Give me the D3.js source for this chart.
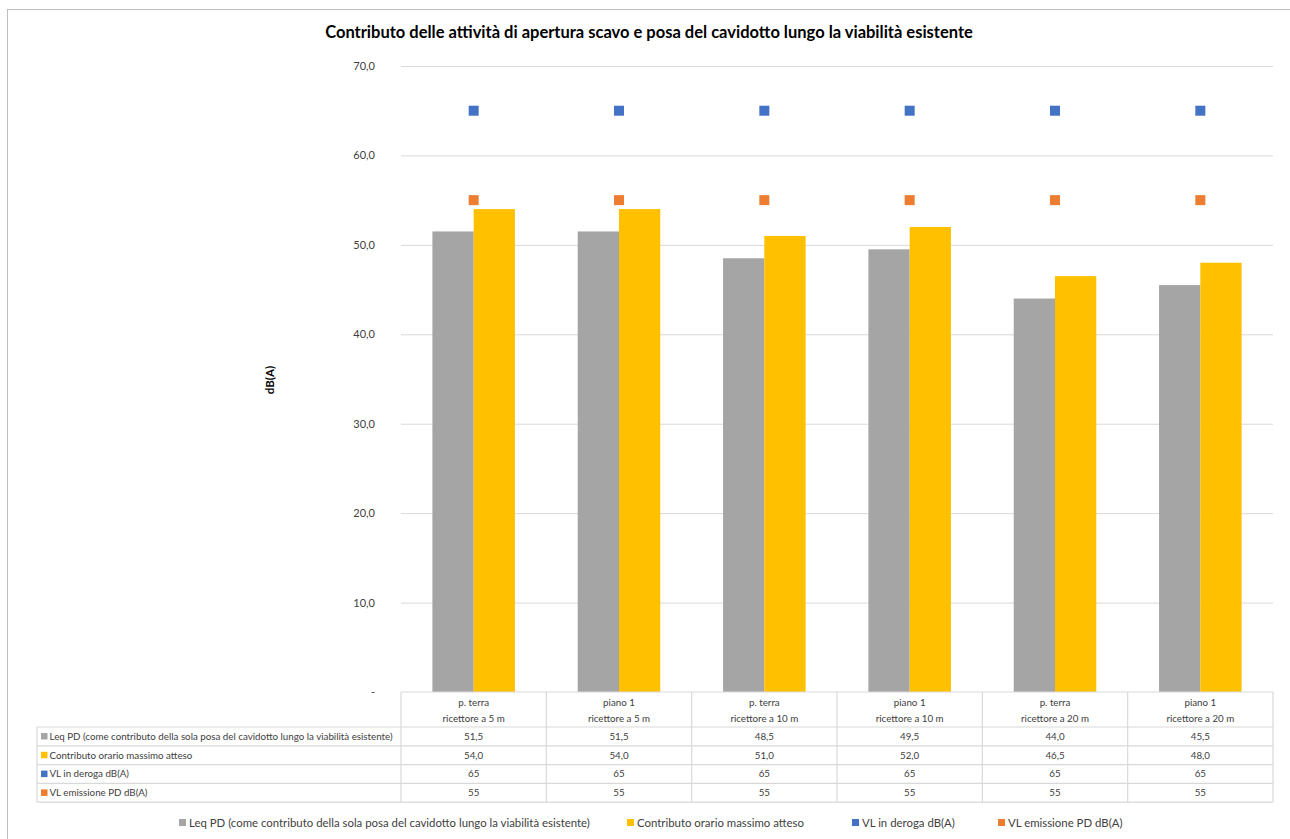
<!DOCTYPE html>
<html>
<head>
<meta charset="utf-8">
<script src="https://cdn.jsdelivr.net/npm/d3@7"></script>
<style>
  html, body { margin: 0; padding: 0; background: #fff; }
  svg { display: block; font-family: Lato, "Open Sans", sans-serif; }
</style>
</head>
<body>
<svg id="chart" width="1290" height="839"></svg>
<script>
// Receptor positions (two label lines each)
const categoriesTop = ["p. terra", "piano 1", "p. terra", "piano 1", "p. terra", "piano 1"];
const categoriesBottom = ["ricettore a 5 m", "ricettore a 5 m", "ricettore a 10 m", "ricettore a 10 m", "ricettore a 20 m", "ricettore a 20 m"];

// Series values, dB(A)
const leqPD = [51.5, 51.5, 48.5, 49.5, 44.0, 45.5];
const contributoMax = [54.0, 54.0, 51.0, 52.0, 46.5, 48.0];
const vlDeroga = [65, 65, 65, 65, 65, 65];
const vlEmissione = [55, 55, 55, 55, 55, 55];

const seriesNames = [
  "Leq PD (come contributo della sola posa del cavidotto lungo la viabilità esistente)",
  "Contributo orario massimo atteso",
  "VL in deroga dB(A)",
  "VL emissione PD dB(A)"
];
const yTicks = [0, 10, 20, 30, 40, 50, 60, 70];
const chartTitle = "Contributo delle attività di apertura scavo e posa del cavidotto lungo la viabilità esistente";

const colors = ["#a5a5a5", "#ffc000", "#4472c4", "#ed7d31"];
const gridColor = "#d9d9d9";
const textColor = "#404040";

const svg = d3.select("#chart");
const plot = { left: 401, right: 1273, top: 66, bottom: 692 };

const cats = d3.range(categoriesTop.length);
const x = d3.scaleBand().domain(cats).range([plot.left, plot.right]).paddingInner(0).paddingOuter(0);
const y = d3.scaleLinear().domain([0, 70]).range([plot.bottom, plot.top]);

const fmt1 = v => v === 0 ? "-" : d3.format(".1f")(v).replace(".", ",");
const fmtTable1 = v => d3.format(".1f")(v).replace(".", ",");
const fmt0 = v => d3.format("d")(v);

// Outer chart frame
svg.append("rect")
  .attr("x", 7.5).attr("y", 9.5).attr("width", 1300).attr("height", 860)
  .attr("fill", "none").attr("stroke", "#bfbfbf").attr("stroke-width", 1);

// Title
svg.append("text")
  .attr("x", 649).attr("y", 38)
  .attr("text-anchor", "middle")
  .attr("font-weight", "bold").attr("font-size", 16.5)
  .attr("fill", "#000")
  .text(chartTitle);

// Gridlines and y tick labels
const yAxis = d3.axisLeft(y).tickValues(yTicks).tickSize(-(plot.right - plot.left) - 14).tickFormat(fmt1).tickPadding(12);
const gy = svg.append("g").attr("transform", `translate(${plot.left - 14},0)`).call(yAxis);
gy.select(".domain").remove();
gy.selectAll(".tick line").attr("stroke", gridColor).attr("stroke-width", 1)
  .attr("x1", 14);
gy.selectAll(".tick text").attr("font-size", 11).attr("fill", textColor)
  .attr("font-family", "Lato, 'Open Sans', sans-serif");
gy.selectAll(".tick").filter(d => d === 0).select("line").remove();

// Y axis title
svg.append("text")
  .attr("transform", `translate(274,${(plot.top + plot.bottom) / 2 + 1}) rotate(-90)`)
  .attr("text-anchor", "middle")
  .attr("font-weight", "bold").attr("font-size", 11.5)
  .attr("fill", "#000")
  .text("dB(A)");

// Bars
const barW = x.bandwidth() * 0.284;
const barSeries = [leqPD, contributoMax];
barSeries.forEach((vals, si) => {
  svg.append("g").selectAll("rect").data(vals).join("rect")
    .attr("x", (d, i) => x(i) + x.bandwidth() / 2 - barW + si * barW)
    .attr("y", d => y(d))
    .attr("width", barW)
    .attr("height", d => y(0) - y(d))
    .attr("fill", colors[si]);
});

// Limit markers
const mk = 10;
[vlDeroga, vlEmissione].forEach((vals, si) => {
  svg.append("g").selectAll("rect").data(vals).join("rect")
    .attr("x", (d, i) => x(i) + x.bandwidth() / 2 - mk / 2)
    .attr("y", d => y(d) - mk / 2)
    .attr("width", mk).attr("height", mk)
    .attr("fill", colors[si + 2]);
});

// Data table
const tbl = svg.append("g");
const labelLeft = 37;
const headerBottom = 727;
const rowH = 18.8;
const rowTops = d3.range(5).map(i => headerBottom + i * rowH);
const tableBottom = rowTops[4];
const tableFont = 9.75;
const lineStyle = sel => sel.attr("stroke", gridColor).attr("stroke-width", 1.2);

// horizontal lines
tbl.append("line").attr("x1", plot.left).attr("x2", plot.right).attr("y1", plot.bottom).attr("y2", plot.bottom).call(lineStyle);
rowTops.forEach(t => {
  tbl.append("line").attr("x1", labelLeft).attr("x2", plot.right).attr("y1", t).attr("y2", t).call(lineStyle);
});
// vertical lines
cats.concat([cats.length]).forEach(i => {
  const xx = i < cats.length ? x(i) : plot.right;
  tbl.append("line").attr("x1", xx).attr("x2", xx).attr("y1", plot.bottom).attr("y2", tableBottom).call(lineStyle);
});
tbl.append("line").attr("x1", labelLeft).attr("x2", labelLeft).attr("y1", headerBottom).attr("y2", tableBottom).call(lineStyle);

// header cells
cats.forEach(i => {
  const cx = x(i) + x.bandwidth() / 2;
  tbl.append("text").attr("x", cx).attr("y", 706).attr("text-anchor", "middle")
    .attr("font-size", tableFont).attr("fill", textColor).text(categoriesTop[i]);
  tbl.append("text").attr("x", cx).attr("y", 722).attr("text-anchor", "middle")
    .attr("font-size", tableFont).attr("fill", textColor).text(categoriesBottom[i]);
});

// rows
const tableRows = [
  { vals: leqPD, f: fmtTable1 },
  { vals: contributoMax, f: fmtTable1 },
  { vals: vlDeroga, f: fmt0 },
  { vals: vlEmissione, f: fmt0 }
];
tableRows.forEach((r, ri) => {
  const ty = rowTops[ri] + rowH / 2 + 3.4;
  tbl.append("rect").attr("x", 41).attr("y", ty - 6.8).attr("width", 6.5).attr("height", 6.5).attr("fill", colors[ri]);
  tbl.append("text").attr("x", 49.5).attr("y", ty).attr("font-size", tableFont).attr("fill", textColor).text(seriesNames[ri]);
  r.vals.forEach((v, i) => {
    tbl.append("text").attr("x", x(i) + x.bandwidth() / 2).attr("y", ty)
      .attr("text-anchor", "middle").attr("font-size", tableFont).attr("fill", textColor).text(r.f(v));
  });
});

// Legend
const legendX = [179, 627, 852, 998];
const lg = svg.append("g");
seriesNames.forEach((name, i) => {
  lg.append("rect").attr("x", legendX[i]).attr("y", 819).attr("width", 7).attr("height", 7).attr("fill", colors[i]);
  lg.append("text").attr("x", legendX[i] + 10).attr("y", 827).attr("font-size", 11.4).attr("fill", textColor).text(name);
});
</script>
</body>
</html>
